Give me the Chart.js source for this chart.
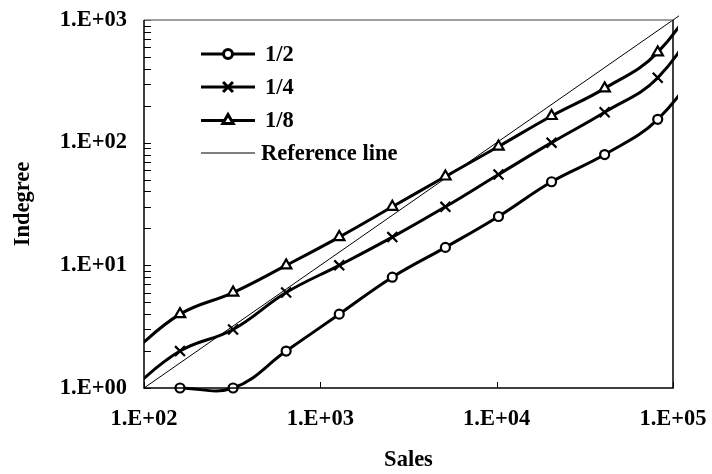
<!DOCTYPE html>
<html>
<head>
<meta charset="utf-8">
<script src="https://cdn.jsdelivr.net/npm/chart.js@4/dist/chart.umd.min.js"></script>
<style>
  html, body { margin: 0; padding: 0; background: #fff; }
  #wrap { width: 712px; height: 474px; }
</style>
</head>
<body>
<div id="wrap"><canvas id="chart" width="712" height="474"></canvas></div>
<script>
// values; first and last points lie outside the axes and get clipped
const sales = [80, 160, 320, 640, 1280, 2560, 5120, 10240, 20480, 40960, 81920, 163840];
const half = [null, 1, 1, 2, 4, 8, 14, 25, 48, 80, 155, 560];
const quarter = [0.92, 2, 3, 6, 10, 17, 30, 55, 100, 177, 338, 1400];
const eighth = [1.8, 4, 6, 10, 17, 30, 53, 93, 165, 277, 545, 2200];
const refX = [100, 110000];
const refY = [1, 1100];

const xTicks = [100, 1000, 10000, 100000];
const yTicks = [1, 10, 100, 1000];
const seriesNames = ['1/2', '1/4', '1/8', 'Reference line'];

const FSIZE = 22.5;
const FONT = 'bold ' + FSIZE + 'px "Liberation Serif", "Times New Roman", serif';
const tickFont = {family: '"Liberation Serif", serif', size: FSIZE, weight: 'bold'};

function pts(xs, ys) {
    return xs.map((x, i) => ({x: x, y: ys[i]})).filter(p => p.y !== null);
}

function sci(v) {
    const e = Math.round(Math.log10(v));
    return '1.E' + (e < 0 ? '-' : '+') + String(Math.abs(e)).padStart(2, '0');
}

const lineClip = {left: 0, top: 0, right: 5, bottom: 8};

const styles = [
    {pointStyle: 'circle', radius: 4.5},
    {pointStyle: 'crossRot', radius: 7},
    {pointStyle: 'triangle', radius: 6},
];

function seriesDataset(label, ys, st) {
    return {
        label: label,
        data: pts(sales, ys),
        borderColor: '#000',
        borderWidth: 3,
        tension: 0.4,
        capBezierPoints: false,
        pointStyle: st.pointStyle,
        pointRadius: st.radius,
        pointBorderWidth: 2.2,
        pointBackgroundColor: '#fff',
        pointBorderColor: '#000',
        clip: lineClip,
    };
}

// inside ticks, plot frame and the legend
const decorations = {
    id: 'decorations',
    afterDatasetsDraw(chart) {
        const {ctx, chartArea: a, scales: {x, y}} = chart;
        ctx.save();
        ctx.strokeStyle = '#000';
        ctx.lineWidth = 1;
        // y ticks, major and minor, pointing into the plot
        for (let d = 1; d <= 1000; d *= 10) {
            for (let m = 1; m < 10; m++) {
                const v = d * m;
                if (v > 1000) break;
                const py = Math.round(y.getPixelForValue(v)) + 0.5;
                ctx.beginPath();
                ctx.moveTo(a.left, py);
                ctx.lineTo(a.left + 7, py);
                ctx.stroke();
            }
        }
        // x major ticks
        xTicks.forEach(v => {
            const px = Math.round(x.getPixelForValue(v)) + 0.5;
            ctx.beginPath();
            ctx.moveTo(px, a.bottom);
            ctx.lineTo(px, a.bottom - 6);
            ctx.stroke();
        });
        // frame
        ctx.lineWidth = 1.5;
        ctx.strokeStyle = '#808080';
        ctx.beginPath();
        ctx.moveTo(a.left, a.top);
        ctx.lineTo(a.right, a.top);
        ctx.stroke();
        ctx.strokeStyle = '#000';
        ctx.beginPath();
        ctx.moveTo(a.right, a.top);
        ctx.lineTo(a.right, a.bottom);
        ctx.lineTo(a.left, a.bottom);
        ctx.lineTo(a.left, a.top);
        ctx.stroke();

        // legend
        ctx.font = FONT;
        ctx.textBaseline = 'middle';
        ctx.fillStyle = '#000';
        const rowY = [54, 87, 120.5, 153];
        seriesNames.forEach((name, i) => {
            const yy = rowY[i];
            ctx.strokeStyle = '#000';
            ctx.lineWidth = i < 3 ? 3 : 1;
            ctx.beginPath();
            ctx.moveTo(201, yy);
            ctx.lineTo(255, yy);
            ctx.stroke();
            if (i < 3) {
                ctx.fillStyle = '#fff';
                ctx.strokeStyle = '#000';
                Chart.helpers.drawPoint(ctx, {
                    pointStyle: styles[i].pointStyle,
                    radius: styles[i].radius,
                    rotation: 0,
                    borderWidth: 2.2
                }, 228, yy);
            }
            ctx.fillStyle = '#000';
            ctx.fillText(name, i < 3 ? 265 : 261, yy + 1);
        });
        ctx.restore();
    }
};

new Chart(document.getElementById('chart'), {
    type: 'line',
    data: {
        datasets: [
            seriesDataset(seriesNames[0], half, styles[0]),
            seriesDataset(seriesNames[1], quarter, styles[1]),
            seriesDataset(seriesNames[2], eighth, styles[2]),
            {
                label: seriesNames[3],
                data: pts(refX, refY),
                borderColor: '#000',
                borderWidth: 1,
                pointRadius: 0,
                tension: 0,
                clip: {left: 0, top: 5, right: 6, bottom: 0},
            },
        ]
    },
    options: {
        responsive: false,
        animation: false,
        layout: {padding: {top: 20, right: 39, left: 0, bottom: 0}},
        plugins: {
            legend: {display: false},
            tooltip: {enabled: false},
        },
        scales: {
            x: {
                type: 'logarithmic',
                min: 100,
                max: 100000,
                grid: {display: false, drawTicks: false},
                border: {display: false},
                afterBuildTicks: s => { s.ticks = xTicks.map(v => ({value: v, major: true})); },
                afterFit: s => { s.height = 86; s.paddingLeft = 0; s.paddingRight = 0; },
                ticks: {
                    autoSkip: false,
                    maxRotation: 0,
                    padding: 18,
                    color: '#000',
                    font: tickFont,
                    callback: v => sci(v),
                },
                title: {
                    display: true,
                    text: 'Sales',
                    color: '#000',
                    font: tickFont,
                    padding: {top: 0, bottom: 0},
                },
            },
            y: {
                type: 'logarithmic',
                min: 1,
                max: 1000,
                grid: {display: false, drawTicks: false},
                border: {display: false},
                afterBuildTicks: s => { s.ticks = yTicks.map(v => ({value: v, major: true})); },
                afterFit: s => { s.width = 144; s.paddingTop = 0; s.paddingBottom = 0; },
                ticks: {
                    autoSkip: false,
                    padding: 17,
                    color: '#000',
                    font: tickFont,
                    callback: v => sci(v),
                },
                title: {
                    display: true,
                    text: 'Indegree',
                    color: '#000',
                    font: tickFont,
                    padding: {top: 10, bottom: 0},
                },
            },
        },
    },
    plugins: [decorations],
});
</script>
</body>
</html>
